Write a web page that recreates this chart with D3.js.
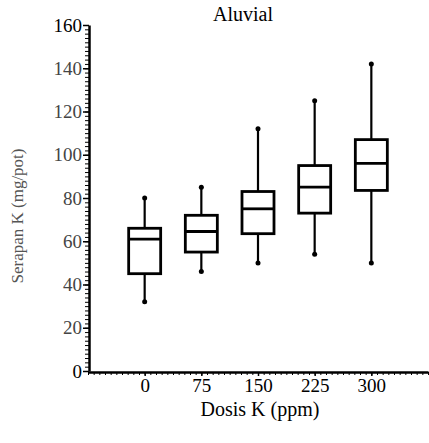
<!DOCTYPE html>
<html>
<head>
<meta charset="utf-8">
<script src="https://cdn.jsdelivr.net/npm/d3@7"></script>
<style>
  body { margin: 0; background: #fff; }
  svg { display: block; }
  text { font-family: "Liberation Serif", "Times New Roman", "DejaVu Serif", serif; }
</style>
</head>
<body>
<svg></svg>
<script>
var width = 429;
var height = 443;
var serif = "'Liberation Serif', 'Times New Roman', 'DejaVu Serif', serif";

// data
var doses = [0, 75, 150, 225, 300];
var whiskerLow = [32, 46, 50, 54, 50];
var q1 = [45, 55, 63.5, 73, 83.5];
var median = [61, 64.5, 75, 85, 96];
var q3 = [66, 72, 83, 95, 107];
var whiskerHigh = [80, 85, 112, 125, 142];
var yTicks = [0, 20, 40, 60, 80, 100, 120, 140, 160];

var boxes = doses.map(function(d, i) {
	return { dose: d, lo: whiskerLow[i], q1: q1[i], med: median[i], q3: q3[i], hi: whiskerHigh[i] };
});

var svg = d3.select("svg")
	.attr("width", width)
	.attr("height", height);

// scales
var xScale = d3.scaleLinear().domain([-75, 375]).range([88, 428]);
var yScale = d3.scaleLinear().domain([0, 160]).range([371, 25]);
var boxW = 32;

// minor ticks on y axis
svg.append("g")
	.attr("transform", "translate(89,0)")
	.call(d3.axisLeft(yScale).tickValues(d3.range(0, 161, 2)).tickSize(4).tickFormat(""))
	.call(function(g) { g.select(".domain").remove(); })
	.selectAll("line").attr("stroke-width", 1);

// minor ticks on x axis
svg.append("g")
	.attr("transform", "translate(0,372)")
	.call(d3.axisBottom(xScale).tickValues(d3.range(-75, 376, 7.5)).tickSize(3).tickFormat(""))
	.call(function(g) { g.select(".domain").remove(); })
	.selectAll("line").attr("stroke-width", 1);

// y axis
var yAxis = svg.append("g")
	.attr("transform", "translate(89,0)")
	.call(d3.axisLeft(yScale).tickValues(yTicks).tickSize(6).tickPadding(1).tickSizeOuter(0));
yAxis.attr("font-family", null);
yAxis.select(".domain").attr("stroke-width", 2.5);
yAxis.selectAll(".tick line").attr("stroke-width", 1.5);
yAxis.selectAll(".tick text")
	.style("font-family", serif)
	.style("font-size", "19px")
	.attr("fill", function(d) { return d == 160 || d == 0 ? "#000" : "#444"; });

// x axis
var xAxis = svg.append("g")
	.attr("transform", "translate(0,372)")
	.call(d3.axisBottom(xScale).tickValues(doses).tickSize(4).tickPadding(3).tickSizeOuter(0));
xAxis.attr("font-family", null);
xAxis.select(".domain").attr("stroke-width", 2.5);
xAxis.selectAll(".tick line").attr("stroke-width", 1.5);
xAxis.selectAll(".tick text")
	.style("font-family", serif)
	.style("font-size", "19px")
	.attr("fill", "#000");

// titles
svg.append("text")
	.attr("x", 243).attr("y", 21)
	.attr("text-anchor", "middle")
	.style("font-family", serif)
	.style("font-size", "20px")
	.text("Aluvial");

svg.append("text")
	.attr("x", 260).attr("y", 416)
	.attr("text-anchor", "middle")
	.style("font-family", serif)
	.style("font-size", "20px")
	.text("Dosis K (ppm)");

svg.append("text")
	.attr("text-anchor", "middle")
	.attr("transform", "translate(23,216)rotate(-90)")
	.style("font-family", serif)
	.style("font-size", "17px")
	.attr("fill", "#555")
	.text("Serapan K (mg/pot)");

// boxes
var g = svg.selectAll(".box").data(boxes).enter().append("g").attr("class", "box");

g.append("line")
	.attr("x1", function(d) { return xScale(d.dose); })
	.attr("x2", function(d) { return xScale(d.dose); })
	.attr("y1", function(d) { return yScale(d.hi); })
	.attr("y2", function(d) { return yScale(d.q3); })
	.attr("stroke", "#000").attr("stroke-width", 2.2);

g.append("line")
	.attr("x1", function(d) { return xScale(d.dose); })
	.attr("x2", function(d) { return xScale(d.dose); })
	.attr("y1", function(d) { return yScale(d.q1); })
	.attr("y2", function(d) { return yScale(d.lo); })
	.attr("stroke", "#000").attr("stroke-width", 2.2);

g.append("rect")
	.attr("x", function(d) { return xScale(d.dose) - boxW / 2; })
	.attr("y", function(d) { return yScale(d.q3); })
	.attr("width", boxW)
	.attr("height", function(d) { return yScale(d.q1) - yScale(d.q3); })
	.attr("fill", "none")
	.attr("stroke", "#000").attr("stroke-width", 2.8);

g.append("line")
	.attr("x1", function(d) { return xScale(d.dose) - boxW / 2; })
	.attr("x2", function(d) { return xScale(d.dose) + boxW / 2; })
	.attr("y1", function(d) { return yScale(d.med); })
	.attr("y2", function(d) { return yScale(d.med); })
	.attr("stroke", "#000").attr("stroke-width", 2.8);

// whisker end dots
g.selectAll(".end").data(function(d) { return [{ x: d.dose, v: d.lo }, { x: d.dose, v: d.hi }]; })
	.enter().append("circle")
	.attr("cx", function(d) { return xScale(d.x); })
	.attr("cy", function(d) { return yScale(d.v); })
	.attr("r", 2.5)
	.attr("fill", "#000");
</script>
</body>
</html>
